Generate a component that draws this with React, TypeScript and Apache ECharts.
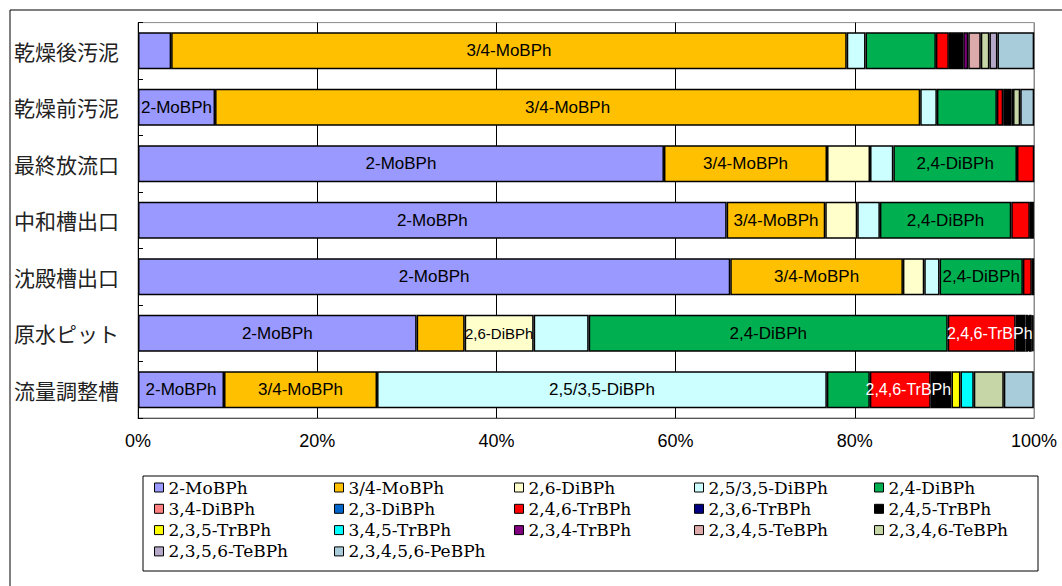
import React, { useEffect, useRef } from "react";
import * as echarts from "echarts";

const categories = ["乾燥後汚泥", "乾燥前汚泥", "最終放流口", "中和槽出口", "沈殿槽出口", "原水ピット", "流量調整槽"];

const seriesNames = [
  "2-MoBPh", "3/4-MoBPh", "2,6-DiBPh", "2,5/3,5-DiBPh", "2,4-DiBPh",
  "3,4-DiBPh", "2,3-DiBPh", "2,4,6-TrBPh", "2,3,6-TrBPh", "2,4,5-TrBPh",
  "2,3,5-TrBPh", "3,4,5-TrBPh", "2,3,4-TrBPh", "2,3,4,5-TeBPh", "2,3,4,6-TeBPh",
  "2,3,5,6-TeBPh", "2,3,4,5,6-PeBPh",
];

const seriesColors = [
  "#9999FF", "#FFC000", "#FFFFCC", "#CCFFFF", "#00B050",
  "#FF8080", "#0066CC", "#FF0000", "#000080", "#000000",
  "#FFFF00", "#00FFFF", "#800080", "#DCAAAA", "#C6D6A6",
  "#B6A8C8", "#A8CCDA",
];

// percentages per category (top to bottom)
const mo2 = [3.7, 8.6, 58.7, 65.7, 66.1, 31.1, 9.6];
const mo34 = [75.4, 78.7, 18.2, 11.0, 19.27, 5.36, 17.08];
const di26 = [0, 0, 4.8, 3.57, 2.38, 7.7, 0];
const di2535 = [2.1, 1.86, 2.6, 2.53, 1.71, 6.14, 50.2];
const di24 = [7.85, 6.7, 13.8, 14.66, 9.3, 40.07, 4.8];
const di34 = [0, 0, 0, 0, 0, 0, 0];
const di23 = [0, 0, 0, 0, 0, 0, 0];
const tr246 = [1.45, 0.7, 1.93, 2.08, 1.0, 7.59, 6.8];
const tr236 = [0, 0, 0, 0, 0, 0, 0];
const tr245 = [1.6, 0.9, 0, 0.45, 0.26, 1.08, 2.31];
const tr235 = [0, 0, 0, 0, 0, 0.3, 1.0];
const tr345 = [0, 0, 0, 0, 0, 0.1, 1.49];
const tr234 = [0.56, 0, 0, 0, 0, 0.3, 0];
const te2345 = [1.4, 0.2, 0, 0, 0, 0.1, 0];
const te2346 = [0.96, 0.8, 0, 0, 0, 0.1, 3.35];
const te2356 = [0.9, 0, 0, 0, 0, 0, 0];
const pe = [4.1, 1.56, 0, 0, 0, 0, 3.35];

const seriesValues = [
  mo2, mo34, di26, di2535, di24, di34, di23, tr246, tr236, tr245,
  tr235, tr345, tr234, te2345, te2346, te2356, pe,
];

// which category rows carry an in-bar label, per series
const labelRows: number[][] = [
  [1, 2, 3, 4, 5, 6], [0, 1, 2, 3, 4, 6], [5], [6], [2, 3, 4, 5],
  [], [], [5, 6], [], [], [], [], [], [], [], [], [],
];

const xTicks = [0, 20, 40, 60, 80, 100];

export default function App() {
  const ref = useRef<HTMLDivElement>(null);

  useEffect(() => {
    if (!ref.current) return;
    const chart = echarts.init(ref.current, undefined, { renderer: "svg" });

    const series = seriesNames.map((name, s) => ({
      name,
      type: "bar",
      stack: "total",
      barWidth: 37,
      itemStyle: { color: seriesColors[s], borderColor: "#000", borderWidth: 1.5 },
      label: {
        show: false,
        position: "inside",
        formatter: "{a}",
        color: s === 7 ? "#fff" : "#000",
        offset: s === 7 ? [8, 0] : [0, 0],
        fontFamily: "Liberation Sans, Arial, sans-serif",
        fontSize: s === 7 ? 16 : s === 2 ? 15 : 17,
      },
      data: seriesValues[s].map((v, i) => ({
        value: v === 0 ? null : v,
        label: { show: labelRows[s].includes(i) },
      })),
    }));

    const legendCols = [0, 1, 2, 3, 4].map((c) => ({
      orient: "vertical",
      left: 154 + c * 180,
      top: 478,
      padding: 0,
      itemWidth: 9,
      itemHeight: 9,
      itemGap: 2.3,
      icon: "rect",
      selectedMode: false,
      itemStyle: { borderColor: "#000", borderWidth: 1 },
      textStyle: {
        fontFamily: "DejaVu Serif, Liberation Serif, serif",
        fontSize: 17,
        lineHeight: 19,
        color: "#000",
      },
      data: seriesNames.filter((_, i) => i % 5 === c),
    }));

    chart.setOption({
      animation: false,
      backgroundColor: "#fff",
      grid: {
        left: 138,
        right: 28,
        top: 22.6,
        bottom: 168,
        show: true,
        borderColor: "#8c8c8c",
        borderWidth: 1,
        containLabel: false,
      },
      legend: legendCols,
      xAxis: {
        type: "value",
        min: xTicks[0],
        max: xTicks[xTicks.length - 1],
        interval: 20,
        axisLine: { show: true, lineStyle: { color: "#555", width: 1 } },
        axisTick: { show: false },
        axisLabel: {
          formatter: "{value}%",
          margin: 14,
          color: "#000",
          fontFamily: "Liberation Sans, Arial, sans-serif",
          fontSize: 18,
        },
        splitLine: {
          show: true,
          lineStyle: { color: ["#000", "#000", "#000", "#000", "#000", "#8c8c8c"], width: 1 },
        },
      },
      yAxis: {
        type: "category",
        inverse: true,
        data: categories,
        axisLine: { show: true, lineStyle: { color: "#000", width: 1 } },
        axisTick: { show: true, inside: true, length: 5, lineStyle: { color: "#000" } },
        axisLabel: {
          margin: 19,
          color: "#222",
          fontFamily: "Noto Sans CJK JP, sans-serif",
          fontSize: 21,
        },
      },
      graphic: [
        {
          type: "rect",
          left: 7.5,
          top: 7.5,
          shape: { x: 0, y: 0, width: 1100, height: 600 },
          style: { fill: "none", stroke: "#000", lineWidth: 1 },
          silent: true,
          z: -10,
        },
        {
          type: "rect",
          left: 140.5,
          top: 473.5,
          shape: { x: 0, y: 0, width: 895, height: 95 },
          style: { fill: "none", stroke: "#000", lineWidth: 1 },
          silent: true,
        },
      ],
      series,
    });

    return () => chart.dispose();
  }, []);

  return (
    <div
      ref={ref}
      style={{ position: "fixed", left: 0, top: 0, width: 1062, height: 586 }}
    />
  );
}
